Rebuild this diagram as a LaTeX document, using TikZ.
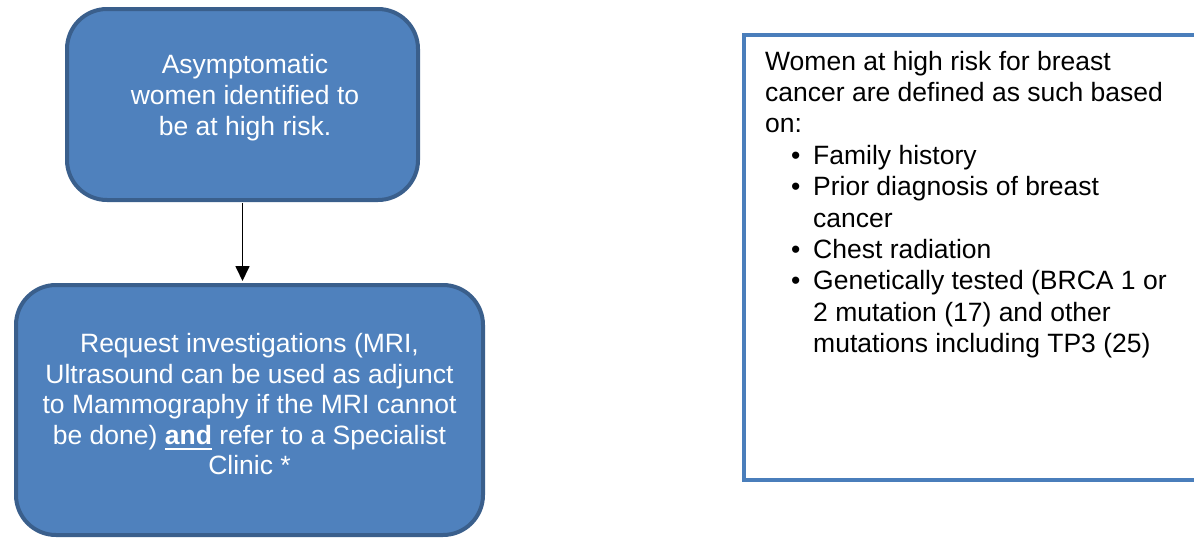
\documentclass[tikz,border=0pt]{standalone}
\usepackage{fontspec}
\setmainfont{Liberation Sans}
\usetikzlibrary{arrows.meta}
\definecolor{boxfill}{HTML}{4F81BD}
\definecolor{boxedge}{HTML}{3A5F8C}
\definecolor{noteedge}{HTML}{4A7EBB}
% thick underline placed under a word
\newcommand{\ulword}[1]{\setbox0\hbox{#1}\rlap{\rule[-5.5pt]{\wd0}{2.2pt}}\box0\relax}
% bullet line with hanging indent
\newcommand{\bitem}{\makebox[48pt][l]{\hspace{26pt}•}}
\newcommand{\hang}{\hspace*{48pt}}
\begin{document}
\begin{tikzpicture}[x=1pt,y=-1pt,
  flowbox/.style={draw=boxedge, fill=boxfill, line width=4pt, rounded corners=40pt,
    inner sep=0pt},
  boxtext/.style={text=white, align=center, inner sep=0pt, anchor=north,
    font=\fontsize{26.5}{31}\selectfont},
  notetext/.style={text=black, align=left, inner sep=0pt, anchor=north west,
    font=\fontsize{26.5}{31.4}\selectfont}]
\useasboundingbox (0,0) rectangle (1194,538);
\clip (0,0) rectangle (1194,538);

% first step
\node[flowbox, minimum width=351pt, minimum height=191pt] (top) at (242.5,104.5) {};
\node[boxtext] (toptext) at (245,54.5) {Asymptomatic\\women identified to\\be at high risk.};

% second step
\node[flowbox, minimum width=467pt, minimum height=250pt] (bottom) at (249.5,410) {};
\node[boxtext, font=\fontsize{26.5}{30.5}\selectfont] (bottomtext) at (249.5,333.3)
  {Request investigations (MRI,\\Ultrasound can be used as adjunct\\to Mammography if the MRI cannot\\be done) \ulword{\textbf{and}} refer to a Specialist\\Clinic *};

\draw[line width=1.7pt, -{Triangle[width=14pt,length=15pt]}, shorten <=1pt, shorten >=2pt]
  (top.south) -- (top.south |- bottom.north);

% definition note
\node[draw=noteedge, line width=4pt, minimum width=470pt, minimum height=445pt,
  inner sep=0pt, outer sep=0pt, anchor=north west] (note) at (744,35) {};
\node[notetext] (notetext) at (765,50.7)
  {Women at high risk for breast\\cancer are defined as such based\\on:\\
   \bitem Family history\\
   \bitem Prior diagnosis of breast\\\hang cancer\\
   \bitem Chest radiation\\
   \bitem Genetically tested (BRCA 1 or\\\hang 2 mutation (17) and other\\\hang mutations including TP3 (25)};
\end{tikzpicture}
\end{document}
